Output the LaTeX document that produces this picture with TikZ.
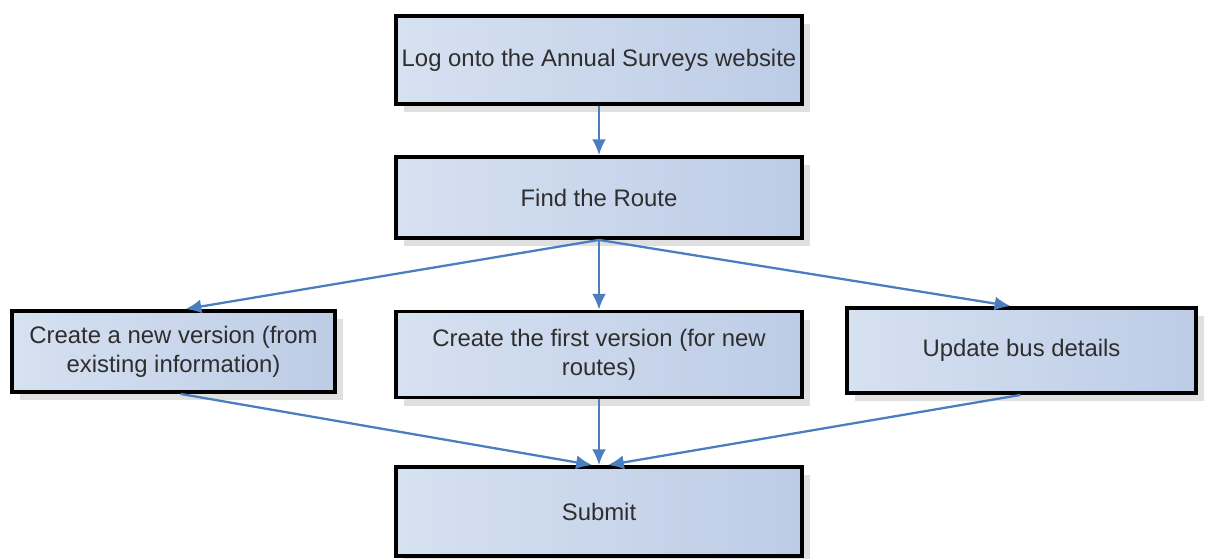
\documentclass[tikz,border=0pt]{standalone}
\usepackage{fontspec}
\setmainfont{Liberation Sans}
\usetikzlibrary{positioning,arrows.meta,shadows,calc}
\definecolor{boxleft}{HTML}{D6E1F1}
\definecolor{boxright}{HTML}{BDCCE6}
\definecolor{flowblue}{HTML}{4A7EBF}
\definecolor{txtgray}{HTML}{2E2E2E}

\begin{document}
\begin{tikzpicture}[
    font=\fontsize{13.6}{16.5}\selectfont,
    stepbox/.style={draw=black,line width=2.2pt,left color=boxleft,right color=boxright,
      text=txtgray,align=center,inner sep=2pt,
      drop shadow={shadow xshift=0.16cm,shadow yshift=-0.16cm,fill=black!12,opacity=1}},
    flow/.style={draw=flowblue,line width=1.3pt,-{Latex[length=9pt,width=8pt]}}
  ]
  \useasboundingbox (0,0) rectangle (24.12,11.16);

  \node[stepbox,minimum width=8.12cm,minimum height=1.76cm] (login) at (11.98,9.96) {Log onto the Annual Surveys website};
  \node[stepbox,minimum width=8.12cm,minimum height=1.62cm] (route) at (11.98,7.21) {Find the Route};

  \node[stepbox,minimum width=6.46cm,minimum height=1.62cm] (newver) at (3.47,4.13) {Create a new version (from\\existing information)};
  \node[stepbox,minimum width=8.12cm,minimum height=1.72cm] (firstver) at (11.98,4.07) {Create the first version (for new\\routes)};
  \node[stepbox,minimum width=6.98cm,minimum height=1.70cm] (update) at (20.43,4.15) {Update bus details};

  \node[stepbox,minimum width=8.12cm,minimum height=1.78cm] (submit) at (11.98,0.93) {Submit};

  % connectors
  \draw[flow] (login.south) -- (route.north);
  \draw[flow] (route.south) -- ([xshift=0.24cm]newver.north);
  \draw[flow] (route.south) -- (firstver.north);
  \draw[flow] (route.south) -- ([xshift=-0.22cm]update.north);
  \draw[flow] ([xshift=0.14cm]newver.south) -- ([xshift=-0.14cm]submit.north);
  \draw[flow] (firstver.south) -- (submit.north);
  \draw[flow] ([xshift=-0.02cm]update.south) -- ([xshift=0.18cm]submit.north);
\end{tikzpicture}
\end{document}
